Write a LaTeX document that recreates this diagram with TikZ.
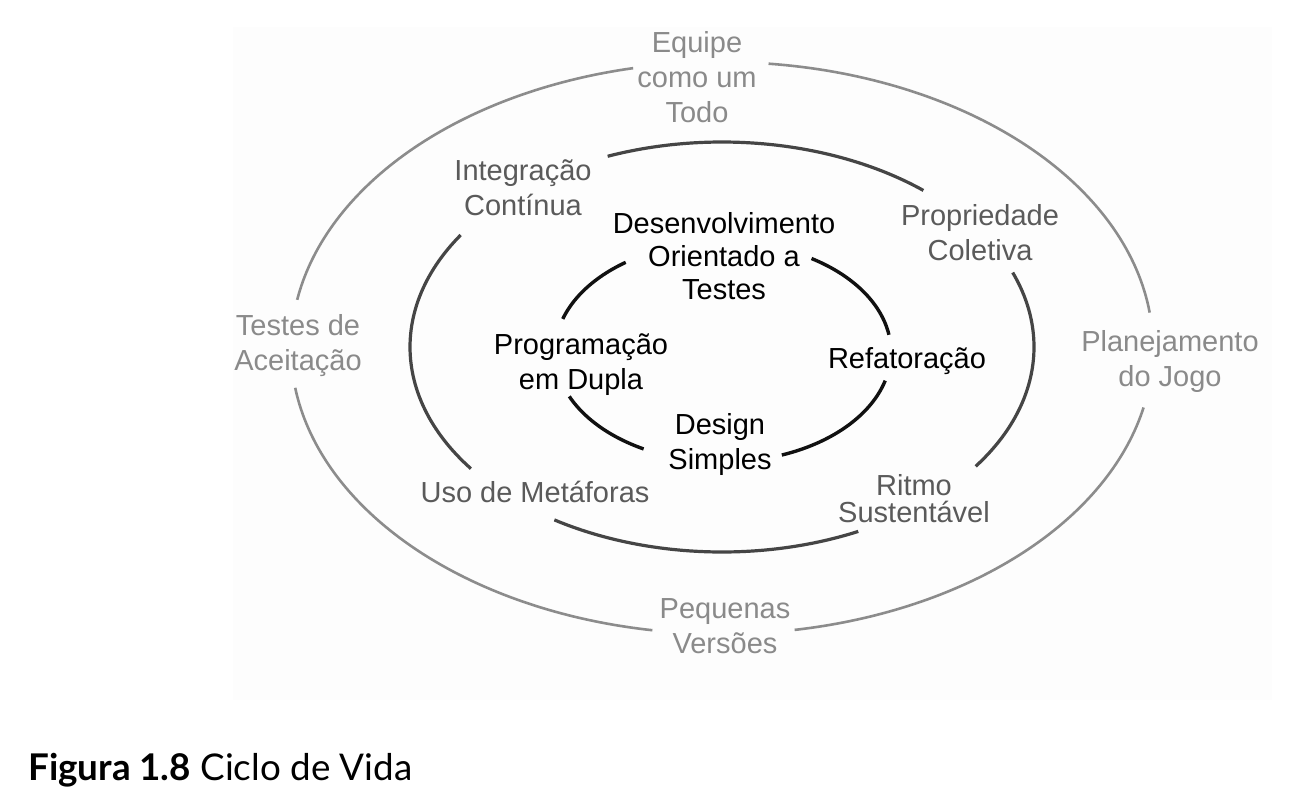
\documentclass[tikz,border=0pt]{standalone}
\usepackage{fontspec}
\setmainfont{Liberation Sans}
\newfontfamily\capfont{Lato}
\definecolor{outerc}{HTML}{8C8C8C}
\definecolor{outert}{HTML}{8A8A8A}
\definecolor{midc}{HTML}{454545}
\definecolor{midt}{HTML}{5A5A5A}
\definecolor{innerc}{HTML}{111111}
\definecolor{bgc}{HTML}{FDFDFD}
\begin{document}
\begin{tikzpicture}[x=1pt,y=-1pt,
  lbl/.style={align=center, inner sep=0pt, font=\fontsize{29}{35}\selectfont},
  outerlbl/.style={lbl, text=outert},
  midlbl/.style={lbl, text=midt},
  innerlbl/.style={lbl, text=black},
  outerring/.style={draw=outerc, line width=2.6pt},
  midring/.style={draw=midc, line width=3.2pt},
  innerring/.style={draw=innerc, line width=3.4pt}
]
\useasboundingbox (0,0) rectangle (1295,808);
\fill[bgc] (233,27) rectangle (1272,700);

% outer ring
\draw[outerring] plot[domain=-83.8:-7.1, samples=70, variable=\t] ({722+431*cos(\t)},{348+286*sin(\t)});
\draw[outerring] plot[domain=12:80.3, samples=70, variable=\t] ({722+431*cos(\t)},{348+286*sin(\t)});
\draw[outerring] plot[domain=99.3:172, samples=70, variable=\t] ({722+431*cos(\t)},{348+286*sin(\t)});
\draw[outerring] plot[domain=189.7:258.1, samples=70, variable=\t] ({722+431*cos(\t)},{348+286*sin(\t)});

% middle ring
\draw[midring] plot[domain=-111.5:-49.8, samples=60, variable=\t] ({722+312*cos(\t)},{347+205*sin(\t)});
\draw[midring] plot[domain=-21.3:35.6, samples=60, variable=\t] ({722+312*cos(\t)},{347+205*sin(\t)});
\draw[midring] plot[domain=64.1:122.5, samples=60, variable=\t] ({722+312*cos(\t)},{347+205*sin(\t)});
\draw[midring] plot[domain=143.6:213.1, samples=60, variable=\t] ({722+312*cos(\t)},{347+205*sin(\t)});

% inner ring
\draw[innerring] plot[domain=197.5:234.6, samples=50, variable=\t] ({723+168*cos(\t)},{352+110*sin(\t)});
\draw[innerring] plot[domain=-58.2:-9, samples=50, variable=\t] ({723+168*cos(\t)},{352+110*sin(\t)});
\draw[innerring] plot[domain=15.1:69.5, samples=50, variable=\t] ({723+168*cos(\t)},{352+110*sin(\t)});
\draw[innerring] plot[domain=118.2:156.2, samples=50, variable=\t] ({723+168*cos(\t)},{352+110*sin(\t)});

% outer labels
\node[outerlbl] (equipe) at (697,77) {Equipe\\como um\\Todo};
\node[outerlbl] (testes) at (298,346) {Testes de\\Aceitação};
\node[outerlbl] (planej) at (1170,361) {Planejamento\\do Jogo};
\node[outerlbl] (pequenas) at (725,626) {Pequenas\\Versões};

% middle labels
\node[midlbl] (integracao) at (523,188) {Integração\\Contínua};
\node[midlbl] (propriedade) at (980,233) {Propriedade\\Coletiva};
\node[midlbl] (metaforas) at (535,492) {Uso de Metáforas};
\node[midlbl, font=\fontsize{29}{27}\selectfont] (ritmo) at (914,499) {Ritmo\\Sustentável};

% inner labels
\node[innerlbl, font=\fontsize{29}{33}\selectfont] (tdd) at (724,256) {Desenvolvimento\\Orientado a\\Testes};
\node[innerlbl] (pareada) at (581,365) {Programação\\em Dupla};
\node[innerlbl] (refat) at (907,361) {Refatoração};
\node[innerlbl] (design) at (720,444) {Design\\Simples};

% caption
\node[anchor=base west, inner sep=0pt, font=\capfont\fontsize{36.8}{40}\selectfont] (caption) at (28,780) {\textbf{Figura 1.8} Ciclo de Vida};
\end{tikzpicture}
\end{document}
